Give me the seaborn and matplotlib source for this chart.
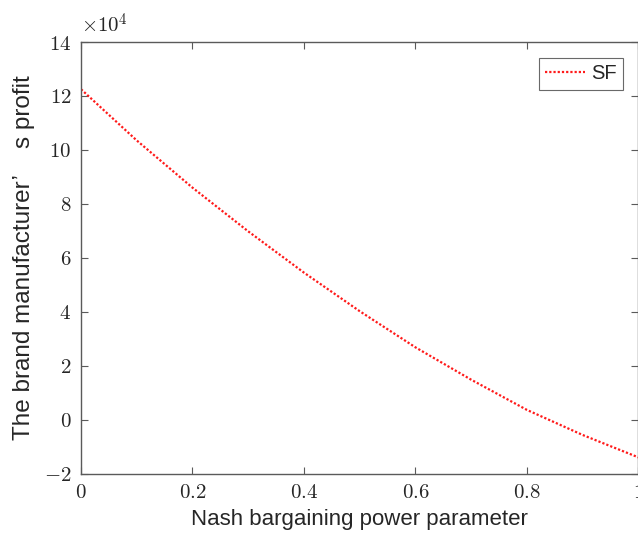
import matplotlib
matplotlib.use('Agg')
import matplotlib.pyplot as plt
import numpy as np
import pandas as pd
import seaborn as sns

# values (profit in units of 1e4)
bargaining_power = [0.0, 0.1, 0.2, 0.3, 0.4, 0.5, 0.6, 0.7, 0.8, 0.9, 1.0]
profit_sf = [12.25, 10.35, 8.60, 6.98, 5.45, 4.02, 2.68, 1.48, 0.36, -0.57, -1.40]

x_ticks = [0, 0.2, 0.4, 0.6, 0.8, 1]
x_tick_labels = ['0', '0.2', '0.4', '0.6', '0.8', '1']
y_ticks = [-2, 0, 2, 4, 6, 8, 10, 12, 14]
y_tick_labels = ['-2', '0', '2', '4', '6', '8', '10', '12', '14']

sns.set_style('ticks')
plt.rcParams['font.family'] = ['Liberation Sans', 'Noto Sans CJK SC', 'DejaVu Sans']
plt.rcParams['mathtext.fontset'] = 'cm'

df = pd.DataFrame({'x': bargaining_power, 'profit': profit_sf})

fig = plt.figure(figsize=(6.38, 5.39), dpi=100)
ax = fig.add_axes([0.127, 0.1215, 0.8735, 0.8005])

sns.lineplot(data=df, x='x', y='profit', ax=ax, color='#ff1a1a',
             linewidth=1.6, dashes=False, label='SF')
line = ax.get_lines()[0]
line.set_dashes((1.0, 0.9))

ax.set_xlim(0, 1)
ax.set_ylim(-2, 14)
ax.set_xticks(x_ticks)
ax.set_xticklabels([f'${t}$' for t in x_tick_labels])
ax.set_yticks(y_ticks)
ax.set_yticklabels([f'${t}$' for t in y_tick_labels])

edge = '#5a5a5a'
for side in ['top', 'right', 'left', 'bottom']:
    ax.spines[side].set_visible(True)
    ax.spines[side].set_color(edge)
    ax.spines[side].set_linewidth(1.0)
ax.tick_params(direction='in', length=5, width=0.8, color=edge, labelsize=15,
               labelcolor='#262626', top=True, right=True, pad=7)

ax.set_xlabel('Nash bargaining power parameter', fontsize=16, color='#262626', labelpad=5)
ax.set_ylabel('The brand manufacturer’    s profit', fontsize=17.5, color='#262626',
              labelpad=6)

ax.text(0.0, 1.012, r'$\times10^{4}$', transform=ax.transAxes, fontsize=15,
        color='#262626', ha='left', va='bottom')

leg = ax.legend(loc='upper right', bbox_to_anchor=(0.972, 0.962), fontsize=14.5,
                frameon=True, fancybox=False, handlelength=2.0, handletextpad=0.3,
                borderpad=0.3, borderaxespad=0)
leg.get_frame().set_edgecolor('#444444')
leg.get_frame().set_linewidth(0.8)
leg.get_lines()[0].set_dashes((1.0, 0.9))

fig.savefig('out.png', dpi=100)
